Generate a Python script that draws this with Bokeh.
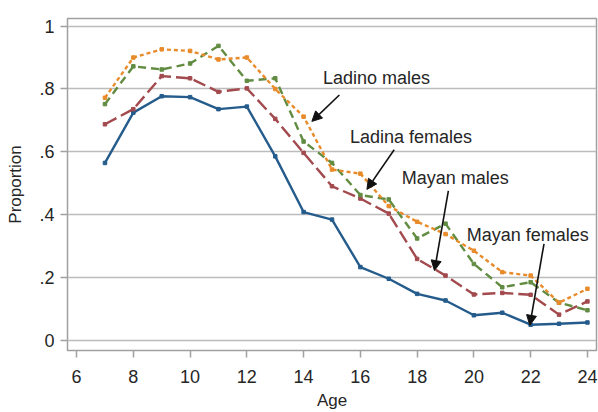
from bokeh.plotting import figure
from bokeh.models import (ColumnDataSource, FixedTicker, Range1d, Label, Arrow,
                          NormalHead)
from bokeh.embed import file_html
from bokeh.resources import INLINE

# ---- data ----
ages = [7, 8, 9, 10, 11, 12, 13, 14, 15, 16, 17, 18, 19, 20, 21, 22, 23, 24]
mayan_females = [0.565, 0.725, 0.777, 0.774, 0.736, 0.744, 0.586, 0.409, 0.385,
                 0.234, 0.197, 0.149, 0.128, 0.081, 0.089, 0.051, 0.054, 0.058]
mayan_males = [0.688, 0.736, 0.841, 0.834, 0.791, 0.802, 0.705, 0.597, 0.491,
               0.452, 0.404, 0.260, 0.207, 0.147, 0.152, 0.146, 0.083, 0.125]
ladina_females = [0.752, 0.872, 0.862, 0.881, 0.937, 0.826, 0.834, 0.633, 0.565,
                  0.463, 0.449, 0.325, 0.372, 0.244, 0.170, 0.186, 0.121, 0.097]
ladino_males = [0.772, 0.900, 0.926, 0.921, 0.894, 0.900, 0.800, 0.712, 0.544,
                0.531, 0.428, 0.378, 0.339, 0.286, 0.218, 0.207, 0.121, 0.165]

x_ticks = [6, 8, 10, 12, 14, 16, 18, 20, 22, 24]
y_ticks = [0, 0.2, 0.4, 0.6, 0.8, 1.0]
y_tick_labels = ["0", ".2", ".4", ".6", ".8", "1"]

# annotation labels: text, label x, label y, arrow start (x, y), arrow end (x, y)
ann_text = ["Ladino males", "Ladina females", "Mayan males", "Mayan females"]
ann_x = [14.68, 15.63, 17.46, 19.75]
ann_y = [0.835, 0.647, 0.518, 0.337]
arr_x0 = [15.26, 17.19, 19.10, 22.47]
arr_y0 = [0.781, 0.607, 0.476, 0.308]
arr_x1 = [14.29, 16.23, 18.61, 21.97]
arr_y1 = [0.697, 0.481, 0.223, 0.049]

FONT = "Liberation Sans"
TXT = "#262626"
GRAY = "#a0a0a0"

p = figure(width=598, height=412, output_backend="svg", toolbar_location=None,
           x_range=Range1d(5.68, 24.32), y_range=Range1d(-0.031, 1.024),
           min_border_left=67, min_border_right=2, min_border_top=18,
           min_border_bottom=60)
p.background_fill_color = "white"
p.border_fill_color = "white"
p.outline_line_color = GRAY
p.outline_line_width = 1.5

p.xgrid.visible = False
p.ygrid.ticker = FixedTicker(ticks=y_ticks)
p.ygrid.grid_line_color = "#bcbcbc"
p.ygrid.grid_line_width = 1.5

for ax in (p.xaxis[0], p.yaxis[0]):
    ax.axis_line_color = None
    ax.major_tick_line_color = GRAY
    ax.major_tick_line_width = 1.5
    ax.major_tick_out = 7
    ax.major_tick_in = 0
    ax.minor_tick_line_color = None
    ax.major_label_text_font = FONT
    ax.major_label_text_font_size = "18px"
    ax.major_label_text_color = TXT
    ax.axis_label_text_font = FONT
    ax.axis_label_text_font_size = "17px"
    ax.axis_label_text_font_style = "normal"
    ax.axis_label_text_color = TXT

p.xaxis.ticker = FixedTicker(ticks=x_ticks)
p.xaxis.axis_label = "Age"
p.xaxis.major_label_standoff = 12
p.xaxis.axis_label_standoff = 5

p.yaxis.ticker = FixedTicker(ticks=y_ticks)
p.yaxis.major_label_overrides = {t: l for t, l in zip(y_ticks, y_tick_labels)}
p.yaxis.axis_label = "Proportion"
p.yaxis.major_label_standoff = 6
p.yaxis.axis_label_standoff = 11

series = [
    (mayan_females, "#255c8c", "solid"),
    (mayan_males, "#a24a4e", "13 5"),
    (ladina_females, "#618c42", "8 5"),
    (ladino_males, "#e88b2b", "4 3"),
]
for vals, col, dash in series:
    src = ColumnDataSource(dict(x=ages, y=vals))
    p.line("x", "y", source=src, line_color=col, line_width=2.4, line_dash=dash)
    p.scatter("x", "y", source=src, marker="square", size=3.5,
              fill_color=col, line_color=col)

for t, lx, ly, x0, y0, x1, y1 in zip(ann_text, ann_x, ann_y, arr_x0, arr_y0,
                                     arr_x1, arr_y1):
    p.add_layout(Label(x=lx, y=ly, text=t, text_font=FONT,
                       text_font_size="18px", text_color=TXT,
                       text_align="left", text_baseline="middle"))
    p.add_layout(Arrow(x_start=x0, y_start=y0, x_end=x1, y_end=y1,
                       line_color="#111111", line_width=1.6,
                       end=NormalHead(size=10, fill_color="#111111",
                                      line_color="#111111")))

open("out.html", "w").write(file_html(p, INLINE))
